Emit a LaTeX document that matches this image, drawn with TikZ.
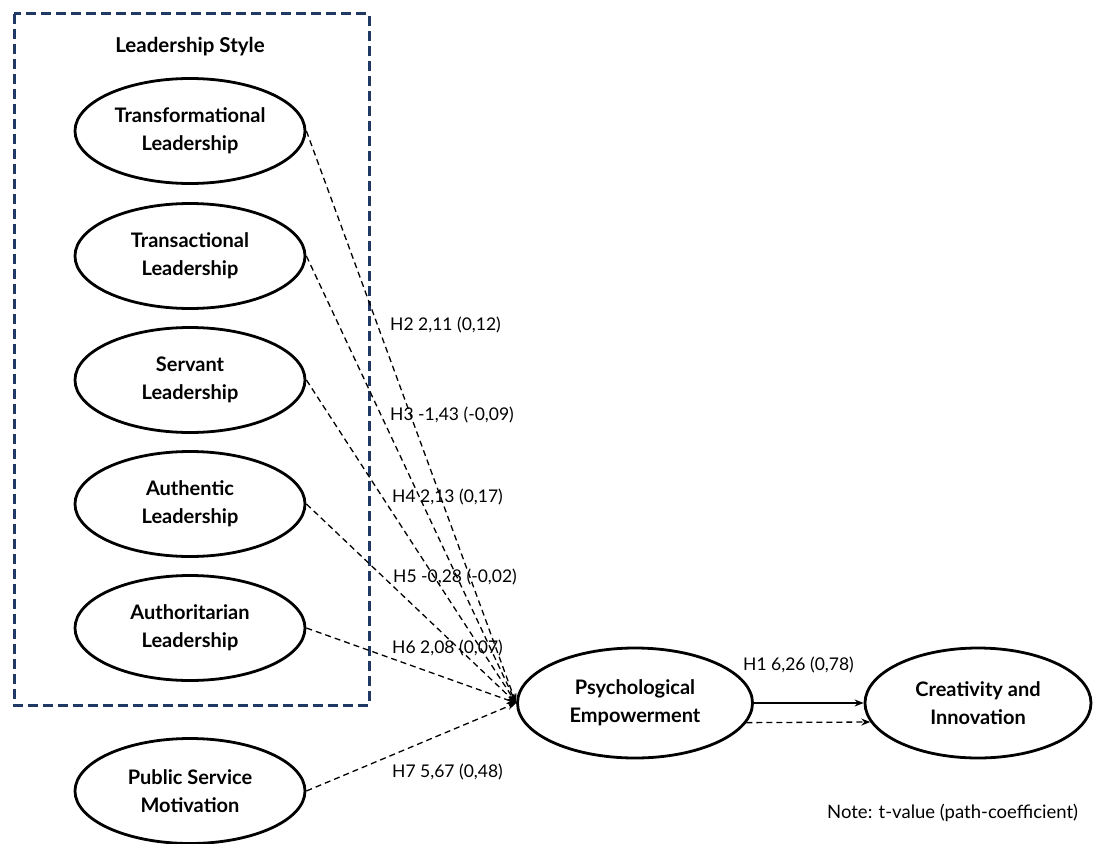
\documentclass[tikz,border=0pt]{standalone}
\usepackage{fontspec}
\setmainfont{Lato}
\usetikzlibrary{arrows.meta,shapes.geometric}
\definecolor{boxnavy}{HTML}{1F3864}
\begin{document}
\begin{tikzpicture}[x=1pt,y=-1pt,
  construct/.style={draw=black,line width=2.8pt,ellipse,minimum width=230pt,minimum height=105pt,
     align=center,font=\bfseries\fontsize{20}{28}\selectfont,inner sep=0pt},
  path/.style={dashed,line width=1.3pt,dash pattern=on 6pt off 4pt,-{Stealth[length=9pt,width=7pt]}},
  lab/.style={anchor=west,font=\fontsize{17.5}{20}\selectfont,inner sep=0pt}]
\useasboundingbox (0,0) rectangle (1094,843);
\draw[boxnavy,line width=3pt,dash pattern=on 10pt off 5pt] (14,14) rectangle (369,705);
\node[font=\bfseries\fontsize{20.5}{24}\selectfont] (ls) at (190,47) {Leadership Style};
\node[construct] (tf) at (190,131) {Transformational\\Leadership};
\node[construct] (ta) at (190,256) {Transactional\\Leadership};
\node[construct] (sv) at (190,380) {Servant\\Leadership};
\node[construct] (au) at (190,504) {Authentic\\Leadership};
\node[construct] (ar) at (190,628) {Authoritarian\\Leadership};
\node[construct] (ps) at (190,791) {Public Service\\Motivation};
\node[construct,minimum width=235pt,minimum height=110pt] (pe) at (635,703) {Psychological\\Empowerment};
\node[construct,minimum width=226pt,minimum height=110pt] (ci) at (978,703) {Creativity and\\Innovation};
\foreach \n in {tf,ta,sv,au,ar,ps} \draw[path] (\n.east) -- (pe.west);
\draw[line width=1.3pt,-{Stealth[length=9pt,width=7pt]}] (pe.east) -- (ci.west);
\draw[path] (pe.350) -- (ci.190);
\node[lab] (h2) at (390,325) {H2 2,11 (0,12)};
\node[lab] (h3) at (390,415) {H3 -1,43 (-0,09)};
\node[lab] (h4) at (392,497) {H4 2,13 (0,17)};
\node[lab] (h5) at (393,577) {H5 -0,28 (-0,02)};
\node[lab] (h6) at (392,648) {H6 2,08 (0,07)};
\node[lab] (h7) at (392,772) {H7 5,67 (0,48)};
\node[lab] (h1) at (743,665) {H1 6,26 (0,78)};
\node[lab,font=\fontsize{18.5}{22}\selectfont] (note) at (827,813) {Note: t-value (path-coefficient)};
\end{tikzpicture}
\end{document}
